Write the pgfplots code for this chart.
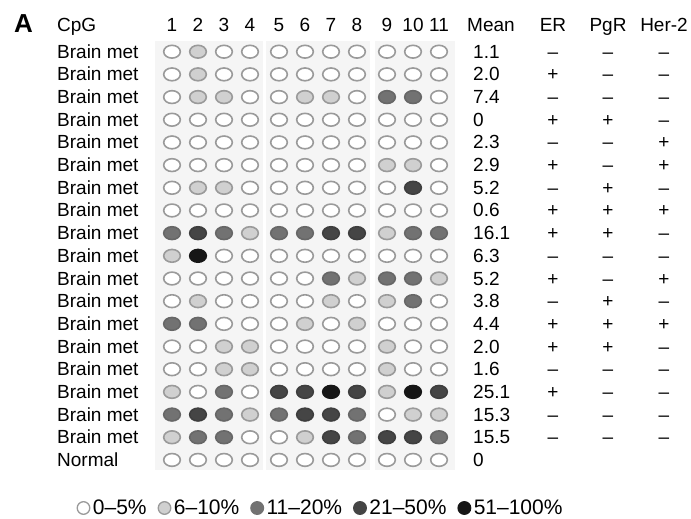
\documentclass[border=0pt]{standalone}
\usepackage{pgfplots}
\pgfplotsset{compat=1.18}
\usepackage{pgfplotstable}
\usepackage{fontspec}
\setmainfont{Liberation Sans}

\definecolor{ring}{HTML}{9A9A9A}
\definecolor{lA}{HTML}{D0D0D0}
\definecolor{lB}{HTML}{727272}
\definecolor{lC}{HTML}{454545}
\definecolor{lD}{HTML}{161616}
\definecolor{panel}{HTML}{F5F5F5}

% methylation level per CpG: 0 = 0-5%, 1 = 6-10%, 2 = 11-20%, 3 = 21-50%, 4 = 51-100%
\pgfplotstableread{
r c1 c2 c3 c4 c5 c6 c7 c8 c9 c10 c11 mean
1  0 1 0 0 0 0 0 0 0 0 0 1.1
2  0 1 0 0 0 0 0 0 0 0 0 2.0
3  0 1 1 0 0 1 1 0 2 2 0 7.4
4  0 0 0 0 0 0 0 0 0 0 0 0
5  0 0 0 0 0 0 0 0 0 0 0 2.3
6  0 0 0 0 0 0 0 0 1 1 0 2.9
7  0 1 1 0 0 0 0 0 0 3 0 5.2
8  0 0 0 0 0 0 0 0 0 0 0 0.6
9  2 3 2 1 2 2 3 3 1 2 2 16.1
10 1 4 0 0 0 0 0 0 0 0 0 6.3
11 0 0 0 0 0 0 2 1 2 2 1 5.2
12 0 1 0 0 0 0 1 0 1 2 0 3.8
13 2 2 0 0 0 1 0 1 0 0 0 4.4
14 0 0 1 1 0 0 0 0 1 0 0 2.0
15 0 0 1 1 0 0 0 0 1 0 0 1.6
16 1 0 2 0 3 3 4 3 1 4 3 25.1
17 2 3 2 1 2 3 3 2 0 1 1 15.3
18 1 2 2 0 0 1 3 2 3 3 2 15.5
19 0 0 0 0 0 0 0 0 0 0 0 0
}\grid

\pgfplotstableread{
r er pgr her
1  -- -- --
2  +  -- --
3  -- -- --
4  +  +  --
5  -- -- +
6  +  -- +
7  -- +  --
8  +  +  +
9  +  +  --
10 -- -- --
11 +  -- +
12 -- +  --
13 +  +  +
14 +  +  --
15 -- -- --
16 +  -- --
17 -- -- --
18 -- -- --
}\receptors

\begin{document}
\begin{tikzpicture}[font=\fontsize{19bp}{23bp}\selectfont]
\begin{axis}[
  scale only axis, width=691bp, height=519bp,
  xmin=0, xmax=691, ymin=0, ymax=519, y dir=reverse,
  hide axis, clip=false,
  legend columns=5,
  legend style={at={(axis cs:77,508)}, anchor=west, draw=none, fill=none,
    font=\fontsize{21bp}{25bp}\selectfont, inner sep=0pt,
    nodes={inner sep=0.6bp},
    /tikz/every odd column/.append style={column sep=2.5bp},
    /tikz/every even column/.append style={column sep=11bp}},
  legend image code/.code={\draw[#1] plot coordinates {(6.5bp,0bp)};},
]
% legend
\addlegendimage{only marks, mark=*, mark size=6.3bp, mark options={draw=ring, fill=white, line width=1.3bp}}
\addlegendentry{0--5\%}
\addlegendimage{only marks, mark=*, mark size=6.3bp, mark options={draw=ring, fill=lA, line width=1.3bp}}
\addlegendentry{6--10\%}
\addlegendimage{only marks, mark=*, mark size=6.3bp, mark options={draw=lB, fill=lB, line width=1.3bp}}
\addlegendentry{11--20\%}
\addlegendimage{only marks, mark=*, mark size=6.3bp, mark options={draw=lC, fill=lC, line width=1.3bp}}
\addlegendentry{21--50\%}
\addlegendimage{only marks, mark=*, mark size=6.3bp, mark options={draw=lD, fill=lD, line width=1.3bp}}
\addlegendentry{51--100\%}

% background panels
\fill[panel] (axis cs:155,41) rectangle (axis cs:263,470);
\fill[panel] (axis cs:266,41) rectangle (axis cs:370,470);
\fill[panel] (axis cs:375,41) rectangle (axis cs:455,470);
\path (axis cs:0,0) (axis cs:691,519);

% circles
\pgfplotsinvokeforeach{1,...,11}{
  \addplot[scatter, only marks, mark=*, mark size=6.4bp,
    point meta=explicit symbolic,
    mark options={xscale=1.3, line width=1.6bp},
    scatter/classes={
      0={draw=ring, fill=white},
      1={draw=ring, fill=lA},
      2={draw=lB!90!black, fill=lB},
      3={draw=lC!90!black, fill=lC},
      4={draw=lD, fill=lD}}]
    table[x expr={172+26*(#1-1)+3*(#1>4)+4*(#1>8)}, y expr={51.7+22.68*(\thisrow{r}-1)}, meta=c#1] {\grid};
}

% mean values
\addplot[draw=none, mark=none, nodes near coords, point meta=explicit symbolic,
  nodes near coords align={anchor=base west}, every node near coord/.append style={inner sep=0pt}]
  table[x expr=473, y expr={58.2+22.68*(\thisrow{r}-1)}, meta=mean] {\grid};
% receptor status
\addplot[draw=none, mark=none, nodes near coords, point meta=explicit symbolic,
  nodes near coords align={anchor=base}, every node near coord/.append style={inner sep=0pt}]
  table[x expr=553, y expr={58.2+22.68*(\thisrow{r}-1)}, meta=er] {\receptors};
\addplot[draw=none, mark=none, nodes near coords, point meta=explicit symbolic,
  nodes near coords align={anchor=base}, every node near coord/.append style={inner sep=0pt}]
  table[x expr=608, y expr={58.2+22.68*(\thisrow{r}-1)}, meta=pgr] {\receptors};
\addplot[draw=none, mark=none, nodes near coords, point meta=explicit symbolic,
  nodes near coords align={anchor=base}, every node near coord/.append style={inner sep=0pt}]
  table[x expr=664, y expr={58.2+22.68*(\thisrow{r}-1)}, meta=her] {\receptors};

% headers
\node[anchor=base west, inner sep=0pt, font=\bfseries\fontsize{26bp}{30bp}\selectfont] at (axis cs:14,33) {A};
\node[anchor=base west, inner sep=0pt] at (axis cs:57,32) {CpG};
\pgfplotsinvokeforeach{1,...,11}{
  \node[anchor=base, inner sep=0pt] at (axis cs:{172+26*(#1-1)+3*(#1>4)+4*(#1>8)},32) {#1};
}
\node[anchor=base west, inner sep=0pt] at (axis cs:467,32) {Mean};
\node[anchor=base, inner sep=0pt] at (axis cs:553,32) {ER};
\node[anchor=base, inner sep=0pt] at (axis cs:608,32) {PgR};
\node[anchor=base, inner sep=0pt] at (axis cs:664,32) {Her-2};

% row labels
\pgfplotsinvokeforeach{1,...,18}{
  \node[anchor=base west, inner sep=0pt] at (axis cs:57,{58.2+22.68*(#1-1)}) {Brain met};
}
\node[anchor=base west, inner sep=0pt] at (axis cs:57,{58.2+22.68*18}) {Normal};
\end{axis}
\end{tikzpicture}
\end{document}
